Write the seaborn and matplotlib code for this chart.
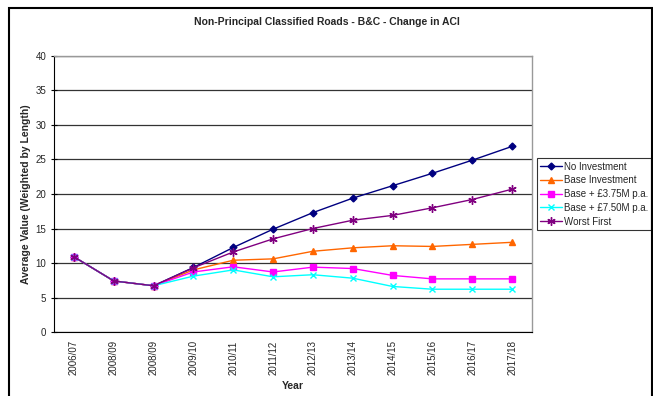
import numpy as np
import pandas as pd
import matplotlib.pyplot as plt
import seaborn as sns

years = ["2006/07", "2008/09", "2008/09", "2009/10", "2010/11", "2011/12",
         "2012/13", "2013/14", "2014/15", "2015/16", "2016/17", "2017/18"]
no_inv = [10.9, 7.4, 6.7, 9.35, 12.25, 14.9, 17.3, 19.4, 21.2, 23.0, 24.9, 26.9]
base_inv = [10.9, 7.4, 6.7, 9.0, 10.4, 10.6, 11.7, 12.2, 12.5, 12.4, 12.7, 13.0]
base_375 = [10.9, 7.4, 6.7, 8.7, 9.45, 8.7, 9.4, 9.2, 8.2, 7.7, 7.7, 7.7]
base_750 = [10.9, 7.4, 6.7, 8.1, 9.0, 8.0, 8.3, 7.8, 6.6, 6.2, 6.2, 6.2]
worst_first = [10.9, 7.4, 6.7, 9.3, 11.6, 13.5, 15.0, 16.2, 16.9, 18.0, 19.2, 20.7]

series = ["No Investment", "Base Investment", "Base + £3.75M p.a.",
          "Base + £7.50M p.a.", "Worst First"]
values = [no_inv, base_inv, base_375, base_750, worst_first]
colors = ["#000080", "#FF6600", "#FF00FF", "#00FFFF", "#800080"]
markers = ["D", "^", "s", "x", (6, 2, 0)]
msizes = [3.5, 5, 5, 5, 6]

rows = []
for name, vals in zip(series, values):
    for i, v in enumerate(vals):
        rows.append({"idx": i, "value": v, "series": name})
df = pd.DataFrame(rows)

sns.set_style("white")
plt.rcParams["font.family"] = ["Liberation Sans", "DejaVu Sans"]

fig = plt.figure(figsize=(6.53, 3.96), dpi=100)
ax = fig.add_axes([0.0827, 0.1616, 0.732, 0.697])

for name, col, mk, ms in zip(series, colors, markers, msizes):
    sub = df[df["series"] == name]
    sns.lineplot(data=sub, x="idx", y="value", ax=ax, color=col, marker=mk,
                 markersize=ms, linewidth=1.0, label=name,
                 markeredgecolor=col, markeredgewidth=1.0)

ax.set_xlim(-0.5, len(years) - 0.5)
ax.set_ylim(0, 40)
ax.set_yticks(np.arange(0, 41, 5))
ax.set_xticks(np.arange(len(years)))
ax.set_xticklabels(years, rotation=90, fontsize=7)
ax.set_xticks(np.arange(-0.5, len(years), 1), minor=True)
ax.tick_params(axis="x", which="major", length=0, pad=6)
ax.tick_params(axis="x", which="minor", length=4, width=0.8, color="black", direction="out")
ax.tick_params(axis="y", labelsize=7, length=4, width=0.8, direction="inout", color="black")
ax.tick_params(axis="both", bottom=True, left=True)

ax.yaxis.grid(True, color="#333333", linewidth=0.9)
ax.set_axisbelow(True)
for s in ["top", "right"]:
    ax.spines[s].set_color("#999999")
    ax.spines[s].set_linewidth(1.0)
for s in ["left", "bottom"]:
    ax.spines[s].set_color("black")
    ax.spines[s].set_linewidth(0.8)

ax.set_xlabel("Year", fontsize=7.5, fontweight="bold", labelpad=4)
ax.set_ylabel("Average Value (Weighted by Length)", fontsize=7.5, fontweight="bold", labelpad=3)
fig.text(0.5, 0.945, "Non-Principal Classified Roads - B&C - Change in ACI",
         ha="center", va="center", fontsize=7.5, fontweight="bold")

leg = ax.legend(loc="upper left", bbox_to_anchor=(0.8224, 0.6), bbox_transform=fig.transFigure,
                fontsize=7, frameon=True, fancybox=False, borderpad=0.35,
                labelspacing=0.38, handlelength=2.2, handletextpad=0.2, borderaxespad=0)
leg.get_frame().set_edgecolor("black")
leg.get_frame().set_linewidth(0.8)

fig.patches.append(plt.Rectangle((0.0138, -0.01), 0.984, 0.99, transform=fig.transFigure,
                                 fill=False, edgecolor="black", linewidth=1.5))

fig.savefig("out.png", dpi=100)
